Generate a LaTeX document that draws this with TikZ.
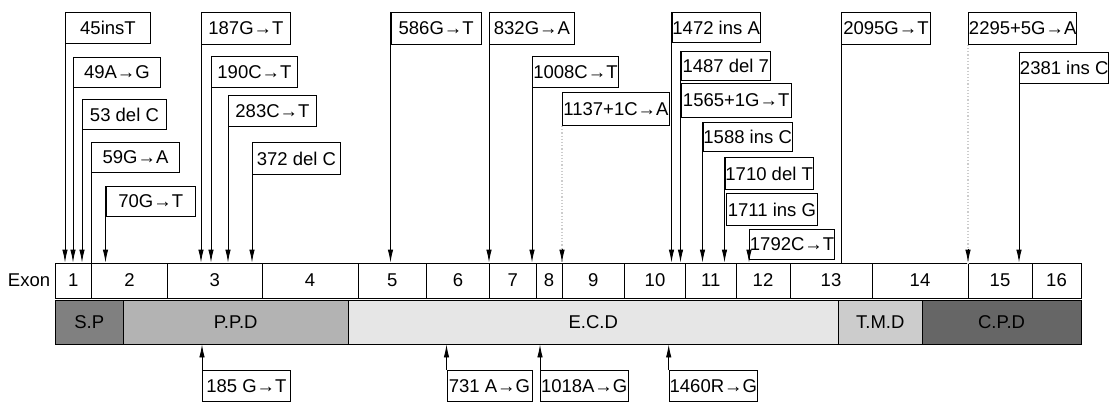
\documentclass[tikz,border=0pt]{standalone}
\usepackage{fontspec}
\setmainfont{Liberation Sans}
\usetikzlibrary{arrows.meta,calc}

\definecolor{spgray}{HTML}{808080}
\definecolor{ppdgray}{HTML}{B3B3B3}
\definecolor{ecdgray}{HTML}{E6E6E6}
\definecolor{tmdgray}{HTML}{CCCCCC}
\definecolor{cpdgray}{HTML}{666666}

\tikzset{
  lbl/.style={font=\fontsize{18.5}{18.5}\selectfont},
  mut/.style={lbl, rectangle, draw, anchor=north west, minimum height=31, inner sep=0.5pt},
  exon/.style={lbl, rectangle, draw, minimum height=35, inner sep=0pt},
  dom/.style={lbl, rectangle, draw, minimum height=44, inner sep=0pt},
  arr/.style={-{Latex[length=13pt,width=5.5pt]}},
  dots/.style={gray!40, dotted, line width=1.2pt}
}

\begin{document}
\begin{tikzpicture}[x=1pt,y=-1pt,line width=0.9pt]
      \useasboundingbox (0,0) rectangle (1118,412);

      % exons
      \foreach \a/\b/\n in {55/91.5/1, 91.5/167.5/2, 167.5/262/3, 262/358/4, 358/426.5/5,
          426.5/489.5/6, 489.5/536/7, 536/562/8, 562/624.5/9, 624.5/685.5/10, 685.5/736/11,
          736/790/12, 790/872/13, 872/968/14, 968/1032/15, 1032/1081/16}
        \node at({(\a+\b)/2},280.5) [exon, minimum width={\b-\a}] (e\n) {\n};
      \node at(e1.west) [lbl, anchor=east, inner sep=4pt] (exlab) {Exon};

      % domains
      \foreach \a/\b/\c/\t/\nm in {55/123.5/spgray/S.P/sp, 123.5/348/ppdgray/P.P.D/ppd,
          348/838.5/ecdgray/E.C.D/ecd, 838.5/922/tmdgray/T.M.D/tmd, 922/1081/cpdgray/C.P.D/cpd}
        \node at({(\a+\b)/2},322) [dom, fill=\c, minimum width={\b-\a}] (\nm) {\t};

      % mutations above
      \node at(65,12) [mut, minimum width=85] (m45) {45insT};
      \node at(73,57) [mut, minimum width=87, minimum height=30] (m49) {49A→G};
      \node at(82,99) [mut, minimum width=84, minimum height=30] (m53) {53 del C};
      \node at(91,142) [mut, minimum width=88, minimum height=30] (m59) {59G→A};
      \node at(105.5,186) [mut, minimum width=89.5, minimum height=30] (m70) {70G→T};
      \node at(201,12) [mut, minimum width=89, minimum height=32] (m187) {187G→T};
      \node at(211,56) [mut, minimum width=86] (m190) {190C→T};
      \node at(228,95) [mut, minimum width=88] (m283) {283C→T};
      \node at(252,142) [mut, minimum width=88, minimum height=32] (m372) {372 del C};
      \node at(390.5,12) [mut, minimum width=90.5, minimum height=32] (m586) {586G→T};
      \node at(489,12) [mut, minimum width=85, minimum height=32] (m832) {832G→A};
      \node at(532,56) [mut, minimum width=86] (m1008) {1008C→T};
      \node at(562,92) [mut, minimum width=107, minimum height=33] (m1137) {1137+1C→A};
      \node at(671.5,12) [mut, minimum width=87.5, minimum height=30] (m1472) {1472 ins A};
      \node at(680.5,51) [mut, minimum width=89.5, minimum height=29] (m1487) {1487 del 7};
      \node at(680.5,83) [mut, minimum width=110.5, minimum height=34] (m1565) {1565+1G→T};
      \node at(702.5,122) [mut, minimum width=87.5, minimum height=29] (m1588) {1588 ins C};
      \node at(724.5,157) [mut, minimum width=85.5, minimum height=32] (m1710) {1710 del T};
      \node at(726,193) [mut, minimum width=91, minimum height=32] (m1711) {1711 ins G};
      \node at(749,229) [mut, minimum width=82, minimum height=30] (m1792) {1792C→T};
      \node at(841,12) [mut, minimum width=89, minimum height=32] (m2095) {2095G→T};
      \node at(968,12) [mut, minimum width=108, minimum height=32] (m2295) {2295+5G→A};
      \node at(1019,52) [mut, minimum width=88] (m2381) {2381 ins C};

      % mutations below
      \node at(202,370) [mut, minimum width=88] (b185) {185 G→T};
      \node at(446.5,370) [mut, minimum width=85] (b731) {731 A→G};
      \node at(540,370) [mut, minimum width=87.5] (b1018) {1018A→G};
      \node at(668.7,370) [mut, minimum width=88] (b1460) {1460R→G};

      \foreach \m in {m45,m49,m53,m70,m187,m190,m283,m372,m586,m832,m1008,m1472,m1487,m1588,m1710,m1792,m2381}
        \draw[arr] (\m.north west) -- (\m.north west |- e1.north);
      \draw (m59.north west) -- (m59.north west |- e1.north);
      \draw (m2095.north west) -- (m2095.north west |- e1.north);

      \draw[dots] (m1137.south west) -- (m1137.south west |- e1.north);
      \draw[arr] ($(m1137.south west |- e1.north)+(0,-14)$) -- (m1137.south west |- e1.north);
      \draw[dots] (m2295.south west) -- (m2295.south west |- e1.north);
      \draw[arr] ($(m2295.south west |- e1.north)+(0,-14)$) -- (m2295.south west |- e1.north);

      \foreach \m in {b185,b731,b1018,b1460}
        \draw[arr] (\m.north west) -- (\m.north west |- sp.south);
\end{tikzpicture}
\end{document}
